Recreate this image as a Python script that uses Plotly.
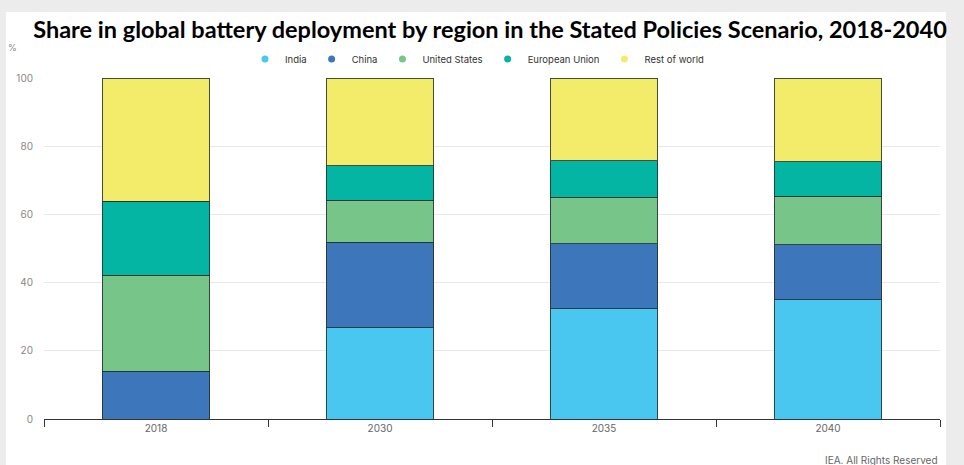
import plotly.graph_objects as go

# Share of global battery deployment (%) by region, Stated Policies Scenario
years = ["2018", "2030", "2035", "2040"]
india = [0.0, 26.7, 32.4, 34.9]
china = [14.0, 25.2, 19.0, 16.2]
united_states = [28.2, 12.3, 13.7, 14.2]
european_union = [21.7, 10.0, 10.7, 10.2]
rest_of_world = [36.1, 25.8, 24.2, 24.5]

regions = ["India", "China", "United States", "European Union", "Rest of world"]
series = [india, china, united_states, european_union, rest_of_world]
colors = ["#4AC7F0", "#3E76BC", "#78C58A", "#05B5A3", "#F3EC6B"]

W, H = 964, 465
ML, MR, MT, MB = 44, 24, 78, 46
PW, PH = W - ML - MR, H - MT - MB

fig = go.Figure()

for name, vals, col in zip(regions, series, colors):
    fig.add_trace(go.Bar(
        x=years, y=vals, name=name, showlegend=False,
        marker=dict(color=col, line=dict(color="rgba(35,50,50,0.85)", width=1)),
        hovertemplate="%{x}: %{y:.1f}%<extra>" + name + "</extra>",
    ))

# circular legend swatches
for name, col in zip(regions, colors):
    fig.add_trace(go.Scatter(
        x=[None], y=[None], mode="markers", name=name,
        marker=dict(symbol="circle", size=7, color=col),
    ))


def px_x(p):
    return (p - ML) / PW


def px_y(p):
    return (H - MB - p) / PH


# white card on a grey page
fig.add_shape(type="rect", xref="paper", yref="paper", layer="below",
              x0=px_x(6), x1=px_x(946), y0=px_y(466), y1=px_y(12),
              fillcolor="white", line=dict(width=0))

fig.update_layout(
    width=W, height=H,
    margin=dict(l=ML, r=MR, t=MT, b=MB),
    paper_bgcolor="#ececec",
    plot_bgcolor="rgba(0,0,0,0)",
    barmode="stack",
    bargap=0.518,
    font=dict(family="Inter, Roboto, sans-serif", color="#777"),
    title=dict(
        text="<b>Share in global battery deployment by region in the Stated Policies Scenario, 2018-2040</b>",
        x=px_x(490), xanchor="center", xref="paper",
        y=1 - 30 / H, yanchor="middle",
        font=dict(family="Lato", size=23.5, color="#000"),
    ),
    legend=dict(
        orientation="h", x=px_x(477), xanchor="center",
        y=px_y(59), yanchor="middle", yref="paper",
        traceorder="normal",
        font=dict(size=9.5, color="#333"),
        itemwidth=30, tracegroupgap=0, bgcolor="rgba(0,0,0,0)",
    ),
    xaxis=dict(
        showgrid=False, showline=True, linecolor="#333", linewidth=1,
        ticks="outside", tickson="boundaries", ticklen=7, tickcolor="#333",
        tickfont=dict(size=10, color="#666"),
    ),
    yaxis=dict(
        range=[0, 100], tickvals=[0, 20, 40, 60, 80, 100],
        showgrid=True, gridcolor="#e8e8e8", gridwidth=1,
        zeroline=False, showline=False,
        tickfont=dict(size=10, color="#888"),
        ticklabelstandoff=10,
    ),
    showlegend=True,
)

fig.add_annotation(text="%", xref="paper", yref="paper", x=px_x(12), y=px_y(47),
                   showarrow=False, font=dict(size=9, color="#888"),
                   xanchor="center", yanchor="middle")
fig.add_annotation(text="IEA. All Rights Reserved", xref="paper", yref="paper",
                   x=px_x(940), y=px_y(460), showarrow=False,
                   font=dict(size=10, color="#666"),
                   xanchor="right", yanchor="middle")

fig.write_html("out.html")
